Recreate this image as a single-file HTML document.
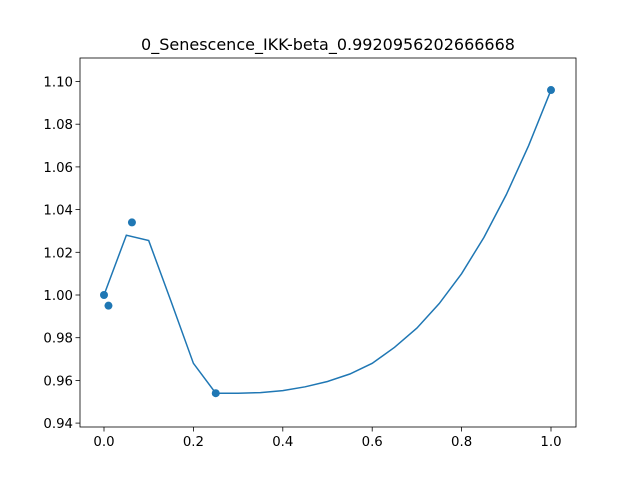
<!DOCTYPE html>
<html><head><meta charset="utf-8"><style>
body{margin:0;background:#fff;}
svg{display:block;font-family:"DejaVu Sans","Liberation Sans",sans-serif;}
</style></head><body>
<svg id="chart" width="640" height="480">
<rect x="0" y="0" width="640" height="480" fill="#fff"/>
<text x="328" y="50" text-anchor="middle" font-size="16">0_Senescence_IKK-beta_0.9920956202666668</text>
<g id="axes"></g>
</svg>
<script>
const lineX=[0,0.05,0.1,0.15,0.2,0.25,0.3,0.35,0.4,0.45,0.5,0.55,0.6,0.65,0.7,0.75,0.8,0.85,0.9,0.95,1.0];
const lineY=[1.0,1.028,1.0255,0.997,0.968,0.954,0.954,0.9543,0.9552,0.957,0.9595,0.963,0.968,0.9755,0.9845,0.996,1.010,1.027,1.047,1.070,1.096];
const ptX=[0,0.01,0.0625,0.25,1.0];
const ptY=[1.0,0.995,1.034,0.954,1.096];
const xTicks=[0,0.2,0.4,0.6,0.8,1.0];
const xTickLabels=["0.0","0.2","0.4","0.6","0.8","1.0"];
const yTicks=[0.94,0.96,0.98,1.00,1.02,1.04,1.06,1.08,1.10];
const yTickLabels=["0.94","0.96","0.98","1.00","1.02","1.04","1.06","1.08","1.10"];

const L=80,R=576,T=58,B=427;
const sx=v=>104+v*447;
const sy=v=>295-(v-1.0)/0.02*42.7;
const g=document.getElementById('axes');
const NS='http://www.w3.org/2000/svg';
function mk(tag,attrs){const e=document.createElementNS(NS,tag);for(const k in attrs)e.setAttribute(k,attrs[k]);g.appendChild(e);return e;}

xTicks.forEach((v,i)=>{
  const t=mk('line',{x1:sx(v),x2:sx(v),y1:B,y2:B+4.5,stroke:'#000','stroke-width':0.8});
  
  
  const tx=mk('text',{x:sx(v),y:B+19,'text-anchor':'middle','font-size':13.3});
  tx.textContent=xTickLabels[i];
  
  
});
yTicks.forEach((v,i)=>{
  const t=mk('line',{x1:L-4.5,x2:L,y1:sy(v),y2:sy(v),stroke:'#000','stroke-width':0.8});
  
  
  const tx=mk('text',{x:L-7,y:sy(v)+5,'text-anchor':'end','font-size':13.3});
  tx.textContent=yTickLabels[i];
  
  
});

const pl=mk('polyline',{points:lineX.map((x,i)=>sx(x)+','+sy(lineY[i])).join(' '),fill:'none',stroke:'#1f77b4','stroke-width':1.5});



ptX.forEach((x,i)=>{
  const c=mk('circle',{cx:sx(x),cy:sy(ptY[i]),r:4,fill:'#1f77b4'});
  
  
});

const fr=mk('rect',{x:L,y:T,width:R-L,height:B-T,fill:'none',stroke:'#000','stroke-width':0.8});


</script>
</body></html>
